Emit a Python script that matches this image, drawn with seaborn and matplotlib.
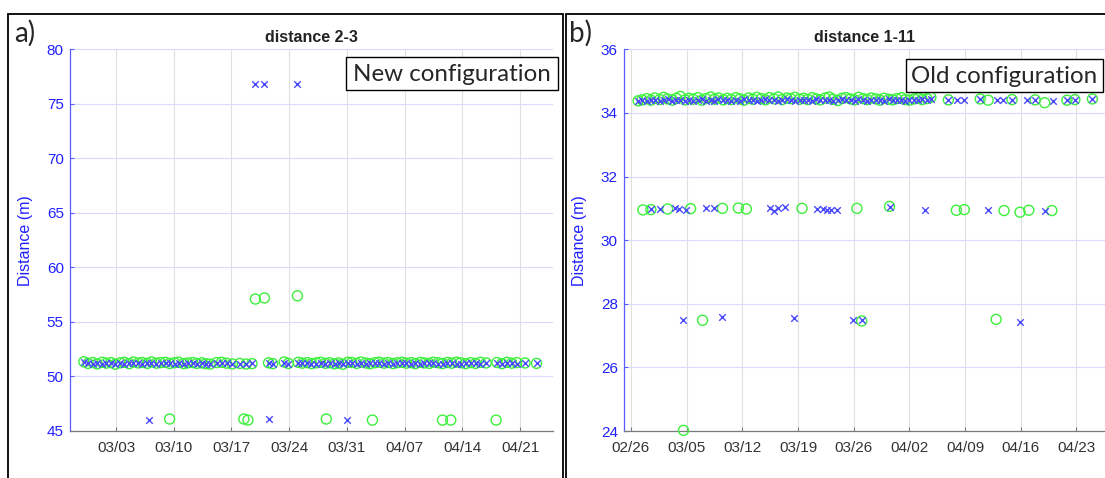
import numpy as np
import pandas as pd
import matplotlib
matplotlib.use("Agg")
import matplotlib.pyplot as plt
import matplotlib.dates as mdates
from matplotlib.patches import Rectangle
import seaborn as sns

# ---------------- DATA ----------------
# Panel a) distance 2-3 : days relative to 2019-03-03
a_band_days = [-3.9, -3.4, -2.8, -2.3, -1.7, -1.2, -0.6, -0.1, 0.5, 1.0, 1.6, 2.1, 2.7, 3.2, 3.8,
               4.3, 4.9, 5.4, 6.0, 6.5, 7.1, 7.6, 8.2, 8.7, 9.3, 9.8, 10.4, 10.9, 11.4,
               12.2, 12.8, 13.4, 14.1, 15.0, 15.8, 16.5,
               18.5, 19.0, 20.4, 20.9,
               22.1, 22.6, 23.2, 23.7, 24.3, 24.8, 25.4, 25.9, 26.5, 27.0, 27.5, 28.1, 28.6,
               29.2, 29.7, 30.3, 30.8, 31.4, 31.9, 32.5, 33.0, 33.6, 34.1, 34.7, 35.2, 35.8,
               36.3, 36.9, 37.4, 38.0, 38.5, 39.1, 39.6, 40.2, 40.7, 41.3, 41.8, 42.4,
               43.0, 43.6, 44.2, 44.9, 46.2, 46.8, 47.4, 48.0, 48.6, 49.6, 51.0]
a_band_x = [51.30, 51.22, 51.18, 51.20, 51.17, 51.21, 51.19, 51.16, 51.20, 51.18, 51.22, 51.19,
            51.21, 51.17, 51.20, 51.23, 51.18, 51.21, 51.19, 51.22, 51.18, 51.20, 51.17, 51.21,
            51.19, 51.18, 51.20, 51.16, 51.15,
            51.22, 51.24, 51.19, 51.12, 51.16, 51.18, 51.21,
            51.24, 51.12, 51.28, 51.15,
            51.22, 51.19, 51.21, 51.18, 51.17, 51.20, 51.16, 51.22, 51.18, 51.20, 51.15, 51.19,
            51.23, 51.18, 51.21, 51.17, 51.20, 51.22, 51.19, 51.18, 51.21, 51.17, 51.20, 51.19,
            51.22, 51.18, 51.21, 51.17, 51.20, 51.19, 51.22, 51.18, 51.16, 51.20, 51.21, 51.18,
            51.17, 51.20,
            51.19, 51.21, 51.18, 51.20, 51.22, 51.17, 51.19, 51.21, 51.18, 51.20, 51.19]
a_band_o = [51.35, 51.20, 51.28, 51.15, 51.30, 51.22, 51.27, 51.12, 51.25, 51.30, 51.18, 51.32,
            51.24, 51.28, 51.20, 51.33, 51.22, 51.27, 51.30, 51.19, 51.26, 51.31, 51.18, 51.24,
            51.28, 51.20, 51.25, 51.17, 51.14,
            51.27, 51.30, 51.22, 51.15, 51.20, 51.14, 51.18,
            51.25, 51.18, 51.33, 51.20,
            51.30, 51.22, 51.27, 51.18, 51.25, 51.30, 51.21, 51.26, 51.16, 51.24, 51.12, 51.30,
            51.28, 51.20, 51.33, 51.24, 51.17, 51.26, 51.31, 51.22, 51.28, 51.19, 51.26, 51.30,
            51.22, 51.27, 51.18, 51.29, 51.24, 51.20, 51.31, 51.25, 51.19, 51.28, 51.22, 51.32,
            51.26, 51.18,
            51.27, 51.20, 51.30, 51.24, 51.28, 51.18, 51.30, 51.22, 51.27, 51.24, 51.20]
a_out_x_days = [4.0, 16.9, 18.0, 18.5, 22.0, 28.0]
a_out_x_vals = [46.0, 76.8, 76.8, 46.1, 76.8, 46.0]
a_out_o_days = [6.5, 15.5, 16.0, 16.9, 18.0, 22.0, 25.5, 31.1, 39.6, 40.6, 46.1]
a_out_o_vals = [46.1, 46.1, 46.0, 57.1, 57.2, 57.4, 46.1, 46.0, 46.0, 46.0, 46.0]

# Panel b) distance 1-11 : days relative to 2019-02-26
b_top_days = [0.9, 1.4, 2.0, 2.5, 3.0, 3.6, 4.1, 4.6, 5.2, 5.7, 6.2, 6.8, 7.3, 7.8, 8.4, 8.9, 9.4,
              10.0, 10.5, 11.0, 11.6, 12.1, 12.6, 13.2, 13.7, 14.2, 14.8, 15.3, 15.8, 16.4, 16.9,
              17.4, 18.0, 18.5, 19.0, 19.6, 20.1, 20.6, 21.2, 21.7, 22.2, 22.8, 23.3, 23.8, 24.4,
              24.9, 25.4, 26.0, 26.5, 27.0, 27.6, 28.1, 28.6, 29.2, 29.7, 30.2, 30.8, 31.3, 31.8,
              32.4, 32.9, 33.4, 34.0, 34.5, 35.0, 35.6, 36.1, 36.6, 37.2, 37.7]
b_top_x = [34.38, 34.40, 34.39, 34.42, 34.40, 34.38, 34.41, 34.43, 34.39, 34.40,
           34.42, 34.38, 34.41, 34.36, 34.40, 34.43, 34.39, 34.41, 34.38, 34.44,
           34.40, 34.42, 34.39, 34.41, 34.38, 34.43, 34.40, 34.42, 34.39, 34.41,
           34.44, 34.40, 34.42, 34.39, 34.41, 34.43, 34.40, 34.38, 34.42, 34.40,
           34.41, 34.39, 34.43, 34.40, 34.42, 34.41, 34.36, 34.40, 34.44, 34.42,
           34.40, 34.38, 34.43, 34.41, 34.39, 34.42, 34.40, 34.41, 34.39, 34.43,
           34.40, 34.42, 34.41, 34.39, 34.42, 34.40, 34.41, 34.43, 34.40, 34.44]
b_top_o = [34.38, 34.41, 34.45, 34.40, 34.47, 34.42, 34.49, 34.44, 34.40, 34.46,
           34.52, 34.41, 34.46, 34.43, 34.48, 34.40, 34.45, 34.50, 34.43, 34.47,
           34.41, 34.46, 34.42, 34.48, 34.44, 34.40, 34.47, 34.43, 34.49, 34.45,
           34.41, 34.48, 34.44, 34.50, 34.42, 34.47, 34.45, 34.49, 34.43, 34.46,
           34.42, 34.48, 34.44, 34.41, 34.47, 34.50, 34.43, 34.39, 34.46, 34.48,
           34.44, 34.41, 34.49, 34.45, 34.42, 34.47, 34.44, 34.40, 34.46, 34.43,
           34.41, 34.45, 34.48, 34.42, 34.40, 34.44, 34.47, 34.42, 34.45, 34.49]
b_x_days = [39.9, 41.0, 41.8, 43.9, 46.0, 46.8, 47.9, 49.8, 50.8, 53.1, 54.8, 55.8, 58.0,
            2.5, 3.6, 5.5, 6.1, 6.9, 9.4, 10.4, 17.5, 18.0, 18.5, 19.4, 23.4, 24.2, 24.7, 25.2,
            25.9, 32.5, 37.0, 44.9, 52.0,
            6.6, 11.5, 20.5, 27.9, 29.0, 48.9]
b_x_vals = [34.42, 34.40, 34.41, 34.43, 34.41, 34.40, 34.42, 34.41, 34.40, 34.38, 34.41, 34.42, 34.43,
            30.97, 30.98, 31.00, 30.97, 30.96, 31.02, 31.00, 31.02, 30.92, 31.00, 31.03, 30.99,
            30.97, 30.96, 30.95, 30.95, 31.05, 30.94, 30.94, 30.92,
            27.48, 27.57, 27.55, 27.50, 27.48, 27.44]
b_o_days = [39.9, 43.9, 44.9, 47.9, 50.8, 52.0, 54.8, 55.8, 58.0,
            1.5, 2.5, 4.6, 7.5, 11.5, 13.5, 14.5, 21.5, 28.4, 32.5, 40.9, 41.9, 46.9, 48.9,
            50.0, 52.9,
            9.0, 29.0, 45.9, 6.6]
b_o_vals = [34.41, 34.44, 34.40, 34.42, 34.41, 34.32, 34.40, 34.42, 34.44,
            30.95, 30.96, 30.98, 30.99, 31.00, 31.01, 30.98, 31.00, 31.00, 31.06, 30.94, 30.96,
            30.93, 30.88, 30.94, 30.93,
            27.48, 27.46, 27.51, 24.02]

a_yticks = [45, 50, 55, 60, 65, 70, 75, 80]
b_yticks = [24, 26, 28, 30, 32, 34, 36]
a_xticks = ["2019-03-03", "2019-03-10", "2019-03-17", "2019-03-24", "2019-03-31",
            "2019-04-07", "2019-04-14", "2019-04-21"]
b_xticks = ["2019-02-26", "2019-03-05", "2019-03-12", "2019-03-19", "2019-03-26",
            "2019-04-02", "2019-04-09", "2019-04-16", "2019-04-23"]
titles = ["distance 2-3", "distance 1-11"]
notes = ["New configuration", "Old configuration"]
letters = ["a)", "b)"]

BASE_A = pd.Timestamp("2019-03-03")
BASE_B = pd.Timestamp("2019-02-26")


def to_dates(base, days):
    return base + pd.to_timedelta(np.asarray(days, dtype=float), unit="D")


# ---------------- STYLE ----------------
sns.set_theme(style="white")
plt.rcParams["font.family"] = ["Liberation Sans", "DejaVu Sans"]

BLUE_M = "#4a4aff"
GREEN_M = "#3cf03c"
BLUE_TXT = "#2020ff"
BLUE_AX = "#5a5aff"
GRAY_AX = "#7a7a7a"
XTXT = "#333333"
VGRID = "#e0e0e0"
HGRID = "#dadaff"

W, H = 1105, 478
fig = plt.figure(figsize=(W / 100, H / 100), dpi=100)
fig.patch.set_facecolor("white")


def fx(px):
    return px / W


def fy(py):
    return 1 - py / H


axA = fig.add_axes([fx(70), fy(431), fx(553) - fx(70), fy(49.3) - fy(431)])
axB = fig.add_axes([fx(624), fy(431), fx(1105) - fx(624), fy(49.3) - fy(431)])


def draw(ax, xd, xv, od, ov):
    sns.scatterplot(x=od, y=ov, marker="o", s=52, facecolor="none", edgecolor=GREEN_M,
                    linewidth=1.0, ax=ax, clip_on=False, zorder=3)
    sns.scatterplot(x=xd, y=xv, marker="x", s=22, color=BLUE_M, linewidth=1.0, ax=ax,
                    clip_on=False, zorder=4)


# panel a
draw(axA,
     to_dates(BASE_A, list(a_band_days) + a_out_x_days), list(a_band_x) + a_out_x_vals,
     to_dates(BASE_A, list(a_band_days) + a_out_o_days), list(a_band_o) + a_out_o_vals)
# panel b
draw(axB,
     to_dates(BASE_B, list(b_top_days) + b_x_days), list(b_top_x) + b_x_vals,
     to_dates(BASE_B, list(b_top_days) + b_o_days), list(b_top_o) + b_o_vals)


def style(ax, ylim, yticks, xlim, xticks, title, ylab_x):
    ax.set_ylim(*ylim)
    ax.set_yticks(yticks)
    ax.set_xlim(pd.Timestamp(xlim[0]), pd.Timestamp(xlim[1]))
    ax.set_xticks([pd.Timestamp(t) for t in xticks])
    ax.xaxis.set_major_formatter(mdates.DateFormatter("%m/%d"))
    ax.xaxis.grid(True, color=VGRID, lw=0.8)
    ax.yaxis.grid(True, color=HGRID, lw=0.8)
    ax.set_axisbelow(True)
    for s in ["top", "right"]:
        ax.spines[s].set_visible(False)
    ax.spines["left"].set_color(BLUE_AX)
    ax.spines["left"].set_linewidth(0.9)
    ax.spines["bottom"].set_color(GRAY_AX)
    ax.spines["bottom"].set_linewidth(0.9)
    ax.tick_params(axis="y", direction="in", length=3, width=0.8, color=BLUE_AX,
                   labelcolor=BLUE_TXT, labelsize=11, pad=4.5, left=True)
    ax.tick_params(axis="x", direction="in", length=3, width=0.8, color=GRAY_AX,
                   labelcolor=XTXT, labelsize=11, pad=7, bottom=True)
    ax.set_xlabel("")
    ax.set_ylabel("Distance (m)", color=BLUE_TXT, fontsize=11.5)
    ax.yaxis.set_label_coords(ylab_x, 0.5)
    ax.set_title(title, fontsize=11.5, fontweight="bold", color="#222222", pad=5)
    ax.set_facecolor("white")


style(axA, (45, 80), a_yticks, ("2019-02-25 10:00", "2019-04-25 00:00"), a_xticks,
      titles[0], (33 - 70) / 483)
style(axB, (24, 36), b_yticks, ("2019-02-25 03:00", "2019-04-26 14:00"), b_xticks,
      titles[1], (587 - 624) / 481)

# panel frames
for (x0, x1) in [(8, 563), (566, 1112)]:
    fig.patches.append(Rectangle((fx(x0), fy(482)), fx(x1) - fx(x0), fy(14) - fy(482),
                                 transform=fig.transFigure, fill=False, edgecolor="black",
                                 linewidth=1.3, zorder=10))

# panel letters
fig.text(fx(14), fy(42), letters[0], fontsize=20, family="Lato", va="baseline", ha="left")
fig.text(fx(569), fy(42), letters[1], fontsize=20, family="Lato", va="baseline", ha="left")

# configuration boxes
boxes = [((346, 56.7, 558, 90), 197, notes[0]), ((906, 59, 1103, 92), 186, notes[1])]
fig.canvas.draw()
r = fig.canvas.get_renderer()
for (x0, y0, x1, y1), tw, txt in boxes:
    fig.patches.append(Rectangle((fx(x0), fy(y1)), fx(x1) - fx(x0), fy(y0) - fy(y1),
                                 transform=fig.transFigure, facecolor="white",
                                 edgecolor="black", linewidth=1.0, zorder=11))
    t = fig.text(fx((x0 + x1) / 2), fy((y0 + y1) / 2 + 1), txt, fontsize=17, family="Lato",
                 ha="center", va="center", zorder=12)
    w = t.get_window_extent(r).width
    t.set_fontsize(17 * tw / w)

fig.savefig("out.png", dpi=100)
